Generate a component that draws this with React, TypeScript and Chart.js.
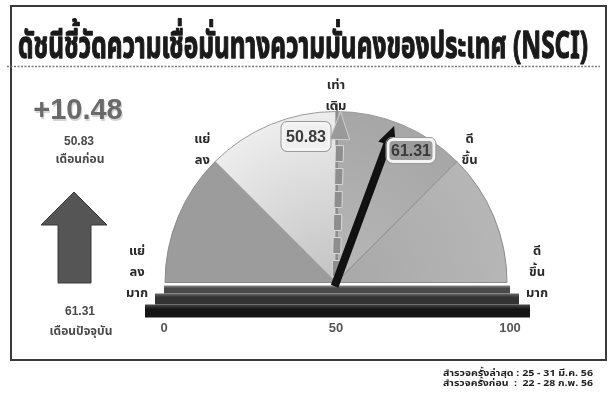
import React, { useEffect, useRef } from "react";
import { Chart, registerables } from "chart.js";

Chart.register(...registerables);

const titleText = "ดัชนีชี้วัดความเชื่อมั่นทางความมั่นคงของประเทศ (NSCI)";
const segmentSizes = [25, 25, 25, 25];
const zoneTicks = [0, 25, 50, 75, 100];
const zoneLabels = [
  ["แย่", "ลง", "มาก"],
  ["แย่", "ลง"],
  ["เท่า", "เดิม"],
  ["ดี", "ขึ้น"],
  ["ดี", "ขึ้น", "มาก"],
];
const axisTicks = [0, 50, 100];
const previousValue = 50.83;
const currentValue = 61.31;
const previousLabel = "เดือนก่อน";
const currentLabel = "เดือนปัจจุบัน";
const footnotes = [
  "สำรวจครั้งล่าสุด : 25 - 31 มี.ค. 56",
  "สำรวจครั้งก่อน  :  22 - 28 ก.พ. 56",
];

const THAI = '"Noto Sans Thai", "Noto Sans", "DejaVu Sans", sans-serif';
const LATIN = '"Liberation Sans", Arial, sans-serif';

const angleOf = (v: number) => Math.PI + (v / 100) * Math.PI;

function drawArrow(ctx: CanvasRenderingContext2D, cx: number, cy: number, v: number, len: number, kind: "prev" | "cur") {
  const a = angleOf(v);
  const ux = Math.cos(a), uy = Math.sin(a);
  const px = -uy, py = ux;
  const tipX = cx + ux * len, tipY = cy + uy * len;
  if (kind === "cur") {
    const headLen = 20, headW = 9.5, shaftW = 4;
    const bx = tipX - ux * headLen, by = tipY - uy * headLen;
    ctx.save();
    ctx.fillStyle = "#111";
    ctx.beginPath();
    ctx.moveTo(cx - ux * 4 + px * shaftW, cy - uy * 4 + py * shaftW);
    ctx.lineTo(bx + px * shaftW, by + py * shaftW);
    ctx.lineTo(bx + px * headW, by + py * headW);
    ctx.lineTo(tipX, tipY);
    ctx.lineTo(bx - px * headW, by - py * headW);
    ctx.lineTo(bx - px * shaftW, by - py * shaftW);
    ctx.lineTo(cx - ux * 4 - px * shaftW, cy - uy * 4 - py * shaftW);
    ctx.closePath();
    ctx.fill();
    ctx.restore();
  } else {
    const headLen = 28, headW = 10, shaftW = 4;
    const bx = tipX - ux * headLen, by = tipY - uy * headLen;
    ctx.save();
    const shaftLen = len - headLen - 4;
    const seg = 16, gap = 7;
    for (let s = 6; s < shaftLen; s += seg + gap) {
      const e = Math.min(s + seg, shaftLen);
      const x1 = cx + ux * s, y1 = cy + uy * s;
      const x2 = cx + ux * e, y2 = cy + uy * e;
      ctx.beginPath();
      ctx.moveTo(x1 + px * shaftW, y1 + py * shaftW);
      ctx.lineTo(x2 + px * shaftW, y2 + py * shaftW);
      ctx.lineTo(x2 - px * shaftW, y2 - py * shaftW);
      ctx.lineTo(x1 - px * shaftW, y1 - py * shaftW);
      ctx.closePath();
      ctx.fillStyle = "#8e8e8e";
      ctx.fill();
      ctx.strokeStyle = "#d8d8d8";
      ctx.lineWidth = 1;
      ctx.stroke();
    }
    ctx.beginPath();
    ctx.moveTo(bx + px * headW, by + py * headW);
    ctx.lineTo(tipX, tipY);
    ctx.lineTo(bx - px * headW, by - py * headW);
    ctx.closePath();
    ctx.fillStyle = "#9a9a9a";
    ctx.fill();
    ctx.strokeStyle = "#d0d0d0";
    ctx.lineWidth = 1;
    ctx.stroke();
    ctx.restore();
  }
}

function valueBox(ctx: CanvasRenderingContext2D, x: number, y: number, w: number, h: number, text: string, fill: string) {
  ctx.save();
  ctx.beginPath();
  ctx.roundRect(x - w / 2, y - h / 2, w, h, 5);
  ctx.fillStyle = fill;
  ctx.fill();
  ctx.lineWidth = 3;
  ctx.strokeStyle = "#f4f4f4";
  ctx.stroke();
  ctx.lineWidth = 1;
  ctx.strokeStyle = "#9a9a9a";
  ctx.beginPath();
  ctx.roundRect(x - w / 2 - 2, y - h / 2 - 2, w + 4, h + 4, 6);
  ctx.stroke();
  ctx.fillStyle = "#3a3a3a";
  ctx.font = `bold 16px ${LATIN}`;
  ctx.textAlign = "center";
  ctx.textBaseline = "middle";
  ctx.fillText(text, x, y + 1);
  ctx.restore();
}

function fitText(ctx: CanvasRenderingContext2D, text: string, x: number, y: number, width: number, stroke = 0) {
  const tw = ctx.measureText(text).width;
  ctx.save();
  ctx.translate(x, y);
  ctx.scale(width / tw, 1);
  ctx.textAlign = "left";
  if (stroke > 0) {
    ctx.lineWidth = stroke;
    ctx.strokeStyle = ctx.fillStyle as string;
    ctx.lineJoin = "round";
    ctx.strokeText(text, 0, 0);
  }
  ctx.fillText(text, 0, 0);
  ctx.restore();
}

const decorPlugin = {
  id: "decor",
  beforeDatasetsDraw(chart: any) {
    const ctx: CanvasRenderingContext2D = chart.ctx;
    const arc = chart.getDatasetMeta(0).data[0];
    if (!arc) return;
    const cx = arc.x, cy = arc.y, r = arc.outerRadius;
    ctx.save();
    // frame
    ctx.strokeStyle = "#3a3a3a";
    ctx.lineWidth = 2;
    ctx.strokeRect(11, 6, 595, 354);
    // title
    ctx.fillStyle = "#1a1a1a";
    ctx.font = `bold 38px ${THAI}`;
    ctx.textBaseline = "alphabetic";
    fitText(ctx, titleText, 18, 58, 570, 1.3);
    // dotted line
    ctx.beginPath();
    ctx.setLineDash([2, 1.5]);
    ctx.strokeStyle = "#777";
    ctx.lineWidth = 1.5;
    ctx.moveTo(7, 66.5);
    ctx.lineTo(600, 66.5);
    ctx.stroke();
    ctx.setLineDash([]);
    // base steps
    const steps = [
      { l: r + 1, rr: r + 3, t: 3, b: 11, c1: "#8a8a8a", c2: "#4a4a4a" },
      { l: r + 10, rr: r + 12, t: 11, b: 22, c1: "#6a6a6a", c2: "#333" },
      { l: r + 20, rr: r + 23, t: 22, b: 35, c1: "#4a4a4a", c2: "#151515" },
    ];
    for (const s of steps) {
      const g = ctx.createLinearGradient(0, cy + s.t, 0, cy + s.b);
      g.addColorStop(0, s.c1);
      g.addColorStop(0.35, s.c2);
      g.addColorStop(1, s.c2);
      ctx.fillStyle = g;
      ctx.fillRect(cx - s.l, cy + s.t, s.l + s.rr, s.b - s.t);
    }
    ctx.restore();
  },
  afterDatasetsDraw(chart: any) {
    const ctx: CanvasRenderingContext2D = chart.ctx;
    const arc = chart.getDatasetMeta(0).data[0];
    if (!arc) return;
    const cx = arc.x, cy = arc.y, r = arc.outerRadius;
    ctx.save();
    // vertical reference line at 50
    ctx.strokeStyle = "#8c8c8c";
    ctx.lineWidth = 2;
    ctx.beginPath();
    ctx.moveTo(cx + 1, cy);
    ctx.lineTo(cx + 1, cy - r - 8);
    ctx.stroke();

    // needles
    drawArrow(ctx, cx, cy, previousValue, r, "prev");
    drawArrow(ctx, cx, cy, currentValue, r - 4, "cur");

    // value boxes
    valueBox(ctx, cx - 30, cy - 146, 46, 26, previousValue.toFixed(2), "#efefef");
    valueBox(ctx, cx + 75, cy - 132, 46, 22, currentValue.toFixed(2), "#9c9c9c");

    // zone labels
    ctx.fillStyle = "#2a2a2a";
    ctx.font = `bold 13px ${THAI}`;
    ctx.textAlign = "center";
    ctx.textBaseline = "middle";
    zoneTicks.forEach((v, i) => {
      const lines = zoneLabels[i];
      let lx: number, ly: number;
      if (v === 0 || v === 100) {
        lx = cx + (v === 0 ? -199 : 201);
        ly = cy - 30;
      } else {
        const a = angleOf(v);
        lx = cx + Math.cos(a) * 189;
        ly = cy + Math.sin(a) * 189 - 8;
        if (v === 50) ly = cy - 196;
      }
      const lh = 21;
      lines.forEach((t, k) => {
        ctx.fillText(t, lx, ly + k * lh);
      });
    });

    // axis ticks
    ctx.fillStyle = "#555";
    ctx.font = `bold 13px ${LATIN}`;
    axisTicks.forEach((v) => {
      const a = angleOf(v);
      ctx.fillText(String(v), cx + Math.cos(a) * (r + 1) + (v === 100 ? 2 : 0), cy + 46);
    });

    // left panel
    const change = currentValue - previousValue;
    ctx.font = `bold 29px ${LATIN}`;
    ctx.fillStyle = "#d4d4d4";
    const chg = (change >= 0 ? "+" : "") + change.toFixed(2);
    ctx.fillText(chg, 79, 113);
    ctx.fillStyle = "#6a6a6a";
    ctx.fillText(chg, 78, 111);
    ctx.fillStyle = "#4a4a4a";
    ctx.font = `bold 12px ${LATIN}`;
    ctx.fillText(previousValue.toFixed(2), 79, 142);
    ctx.font = `bold 12px ${THAI}`;
    ctx.fillText(previousLabel, 80, 161);
    ctx.font = `bold 12px ${LATIN}`;
    ctx.fillText(currentValue.toFixed(2), 80, 312);
    ctx.font = `bold 12px ${THAI}`;
    ctx.fillText(currentLabel, 81, 333);

    // up arrow
    ctx.beginPath();
    ctx.moveTo(74, 192);
    ctx.lineTo(107, 225);
    ctx.lineTo(91, 225);
    ctx.lineTo(91, 283);
    ctx.lineTo(58, 283);
    ctx.lineTo(58, 225);
    ctx.lineTo(41, 225);
    ctx.closePath();
    ctx.fillStyle = "#555";
    ctx.fill();
    ctx.strokeStyle = "#3a3a3a";
    ctx.lineWidth = 1;
    ctx.stroke();

    // footnotes
    ctx.fillStyle = "#222";
    ctx.font = `bold 9px ${THAI}`;
    ctx.textBaseline = "middle";
    fitText(ctx, footnotes[0], 443, 374, 150);
    fitText(ctx, footnotes[1], 443, 384, 150);
    ctx.restore();
  },
};

const segColors: [string, string][] = [
  ["#9c9c9c", "#ababab"],
  ["#c2c2c2", "#ededed"],
  ["#b8b8b8", "#a6a6a6"],
  ["#a8a8a8", "#b6b6b6"],
];

export default function App() {
  const ref = useRef<HTMLCanvasElement>(null);
  useEffect(() => {
    if (!ref.current) return;
    const chart = new Chart(ref.current, {
      type: "doughnut",
      data: {
        labels: ["0-25", "25-50", "50-75", "75-100"],
        datasets: [
          {
            data: segmentSizes,
            backgroundColor: (c: any) => {
              const ch = c.chart;
              const i = c.dataIndex ?? 0;
              const meta = ch.getDatasetMeta(0);
              const el = meta && meta.data && meta.data[0];
              if (!ch.chartArea || !el || !el.outerRadius) return segColors[i][0];
              const g = ch.ctx.createRadialGradient(el.x, el.y, 0, el.x, el.y, el.outerRadius);
              g.addColorStop(0, segColors[i][0]);
              g.addColorStop(1, segColors[i][1]);
              return g;
            },
            borderColor: ["#8a8a8a", "#9a9a9a", "#9a9a9a", "#8a8a8a"],
            borderWidth: 1,
          },
        ],
      },
      options: {
        responsive: true,
        maintainAspectRatio: false,
        animation: false,
        rotation: -90,
        circumference: 180,
        cutout: 0,
        layout: { padding: { left: 164, right: 101, top: 111, bottom: 117 } },
        plugins: { legend: { display: false }, tooltip: { enabled: false }, title: { display: false } },
        events: [],
      },
      plugins: [decorPlugin],
    } as any);
    return () => chart.destroy();
  }, []);
  return (
    <div style={{ position: "fixed", left: 0, top: 0, width: 609, height: 400, background: "#fff" }}>
      <canvas ref={ref} />
    </div>
  );
}
